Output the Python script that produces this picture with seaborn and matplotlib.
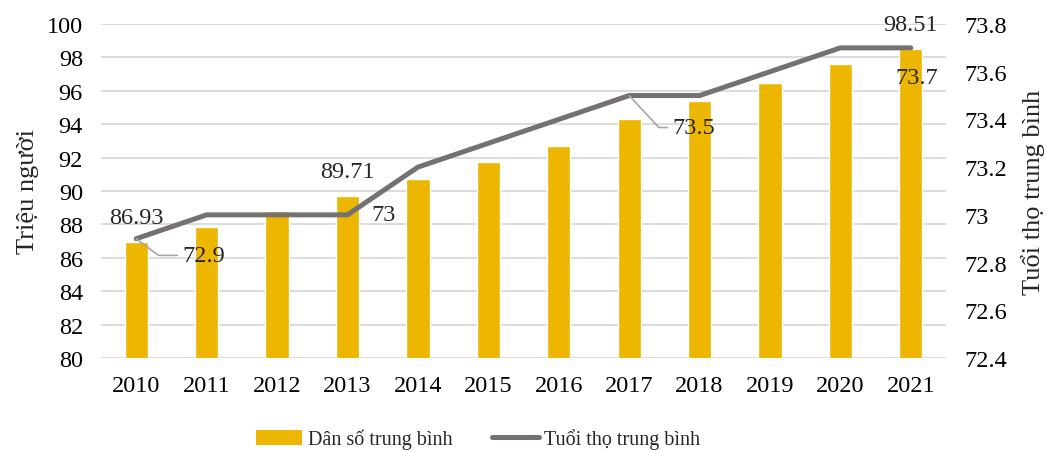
import matplotlib
matplotlib.use("Agg")
import matplotlib.pyplot as plt
import seaborn as sns
import numpy as np
import pandas as pd
from matplotlib.patches import Patch
from matplotlib.lines import Line2D
from matplotlib.ticker import FuncFormatter

years = ["2010", "2011", "2012", "2013", "2014", "2015", "2016", "2017", "2018", "2019", "2020", "2021"]
population = [86.93, 87.86, 88.81, 89.71, 90.73, 91.71, 92.69, 94.29, 95.39, 96.48, 97.58, 98.51]
life_exp = [72.9, 73.0, 73.0, 73.0, 73.2, 73.3, 73.4, 73.5, 73.5, 73.6, 73.7, 73.7]
left_ticks = [80, 82, 84, 86, 88, 90, 92, 94, 96, 98, 100]
right_ticks = [72.4, 72.6, 72.8, 73.0, 73.2, 73.4, 73.6, 73.8]

BAR = "#EDB600"
LINE = "#767171"
GRID = "#D9D9D9"

sns.set_theme(style="white")
plt.rcParams["font.family"] = ["Liberation Serif", "DejaVu Serif"]
FS = 17.5
LFS = 19

fig = plt.figure(figsize=(10.46, 4.52), dpi=100)
ax = fig.add_axes([0.0966, 0.2058, 0.8078, 0.7389])

df = pd.DataFrame({"year": years, "pop": population, "life": life_exp})
df["pos"] = np.arange(len(years))

sns.barplot(data=df, x="year", y="pop", color=BAR, width=0.33, saturation=1, ax=ax, zorder=2)
ax.set_ylim(80, 100)
ax.set_yticks(left_ticks)
ax.set_xlim(-0.5, len(years) - 0.5)
ax.yaxis.grid(True, color=GRID, linewidth=1.3, zorder=0)
ax.set_axisbelow(True)
for s in ax.spines.values():
    s.set_visible(False)
ax.tick_params(axis="y", length=0, pad=13, labelsize=FS, colors="black")
ax.tick_params(axis="x", length=0, pad=12, labelsize=FS, colors="black")
ax.set_xlabel("")
ax.set_ylabel("Triệu người", fontsize=LFS, labelpad=6)

ax2 = ax.twinx()
sns.lineplot(data=df, x="pos", y="life", color=LINE, linewidth=3.6, ax=ax2, zorder=3)
ax2.set_ylim(72.4, 73.8)
ax2.set_yticks(right_ticks)
ax2.yaxis.set_major_formatter(FuncFormatter(lambda v, p: f"{v:g}"))
ax2.set_xlim(-0.5, len(years) - 0.5)
for s in ax2.spines.values():
    s.set_visible(False)
ax2.tick_params(axis="y", length=0, pad=13, labelsize=FS, colors="black")
ax2.set_ylabel("Tuổi thọ trung bình", fontsize=LFS, labelpad=10)
ax2.set_xlabel("")

# population labels (first, 2013, last)
for i in [0, 3, 11]:
    ax.annotate(f"{population[i]:g}", xy=(i, population[i]), xytext=(0, 10),
                textcoords="offset points", ha="center", va="bottom", fontsize=FS)

lead = dict(arrowstyle="-", color="#A6A6A6", linewidth=1.2, shrinkA=1, shrinkB=0)
ax2.annotate(f"{life_exp[0]:g}", xy=(0, life_exp[0]), xytext=(33, -12),
             textcoords="offset points", ha="left", va="center", fontsize=FS,
             arrowprops=dict(**lead, connectionstyle="angle,angleA=0,angleB=-37"))
ax2.annotate(f"{life_exp[3]:g}", xy=(3, life_exp[3]), xytext=(17, 0),
             textcoords="offset points", ha="left", va="center", fontsize=FS)
ax2.annotate(f"{life_exp[7]:g}", xy=(7, life_exp[7]), xytext=(31, -23),
             textcoords="offset points", ha="left", va="center", fontsize=FS,
             arrowprops=dict(**lead, connectionstyle="angle,angleA=0,angleB=-47"))
ax2.annotate(f"{life_exp[11]:g}", xy=(11, life_exp[11]), xytext=(4, -21),
             textcoords="offset points", ha="center", va="center", fontsize=FS)

handles = [Patch(facecolor=BAR, edgecolor="none"),
           Line2D([0], [0], color=LINE, linewidth=3.6, solid_capstyle="round")]
fig.legend(handles, ["Dân số trung bình", "Tuổi thọ trung bình"], loc="center",
           bbox_to_anchor=(0.457, 0.027), ncol=2, frameon=False, fontsize=14.5,
           handlelength=2.3, handleheight=0.8, handletextpad=0.25, columnspacing=2.0)

fig.savefig("out.png", dpi=100)
